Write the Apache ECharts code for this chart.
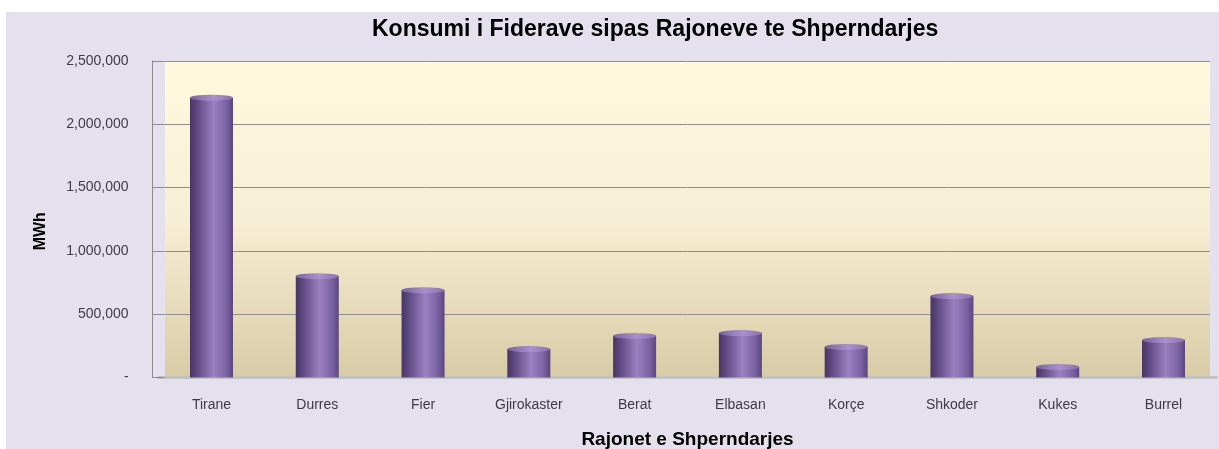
<!DOCTYPE html>
<html>
<head>
<meta charset="utf-8">
<script src="https://cdn.jsdelivr.net/npm/echarts@6/dist/echarts.min.js"></script>
<style>
  html, body { margin: 0; padding: 0; background: #ffffff; }
  #bg { position: absolute; left: 6px; top: 12px; width: 1213px; height: 437px; background: #E5E0ED; }
  #main { position: absolute; left: 0; top: 0; width: 1219px; height: 449px; }
</style>
</head>
<body>
<div id="bg"></div>
<div id="main"></div>
<script>
// Rajonet e Shperndarjes (categories)
const regions = ['Tirane', 'Durres', 'Fier', 'Gjirokaster', 'Berat', 'Elbasan', 'Korçe', 'Shkoder', 'Kukes', 'Burrel'];
// Konsumi i fiderave, MWh
const consumption = [2210000, 800000, 690000, 225000, 328000, 351000, 241000, 643000, 83000, 296000];
// y axis scale
const yMin = 0;
const yMax = 2500000;
const yStep = 500000;

const chart = echarts.init(document.getElementById('main'));

const fmt = v => (v === 0 ? '-' : v.toLocaleString('en-US'));

const barColor = new echarts.graphic.LinearGradient(0, 0, 1, 0, [
  { offset: 0, color: '#48365F' },
  { offset: 0.15, color: '#5D4780' },
  { offset: 0.55, color: '#9A80C0' },
  { offset: 0.85, color: '#7A62A2' },
  { offset: 1, color: '#5A4580' }
]);
const capColor = new echarts.graphic.LinearGradient(0, 0, 1, 0, [
  { offset: 0, color: '#7A64A0' },
  { offset: 0.55, color: '#A891CC' },
  { offset: 1, color: '#8A72B2' }
]);

const option = {
  backgroundColor: 'transparent',
  animation: false,
  title: {
    text: 'Konsumi i Fiderave sipas Rajoneve te Shperndarjes',
    left: 367,
    top: 13,
    textStyle: { fontFamily: 'Liberation Sans', fontSize: 23, fontWeight: 'bold', color: '#000' }
  },
  grid: [
    { left: 158.6, right: 2.6, top: 61, bottom: 71.5, show: false, outerBoundsMode: 'none', containLabel: false },
    {
      left: 165, right: 9, top: 61, bottom: 71.5, show: true, borderWidth: 0,
      outerBoundsMode: 'none', containLabel: false,
      backgroundColor: new echarts.graphic.LinearGradient(0, 0, 0, 1, [
        { offset: 0, color: '#FFF9DE' },
        { offset: 0.5, color: '#F7EFD5' },
        { offset: 1, color: '#D9CBA7' }
      ])
    }
  ],
  xAxis: [
    {
      type: 'category',
      gridIndex: 0,
      data: regions,
      offset: 3,
      axisLine: { lineStyle: { color: '#C2C2C2', width: 3 } },
      axisTick: { show: false },
      axisLabel: { margin: 18, fontFamily: 'Liberation Sans', fontSize: 14, color: '#3C3A46' },
      name: 'Rajonet e Shperndarjes',
      nameLocation: 'middle',
      nameGap: 50,
      nameTextStyle: { fontFamily: 'Liberation Sans', fontSize: 19, fontWeight: 'bold', color: '#000' }
    },
    { type: 'value', gridIndex: 1, show: false }
  ],
  yAxis: [
    {
      type: 'value',
      gridIndex: 0,
      min: yMin, max: yMax, interval: yStep,
      offset: 6,
      axisLine: { show: true, lineStyle: { color: '#8C8C8C' } },
      axisTick: { show: true, inside: true, length: 12, lineStyle: { color: '#8C8C8C' } },
      splitLine: { show: false },
      axisLabel: { margin: 24, fontFamily: 'Liberation Sans', fontSize: 14, color: '#3C3C46', formatter: fmt },
      name: 'MWh',
      nameLocation: 'middle',
      nameRotate: 90,
      nameGap: 104,
      nameTextStyle: { fontFamily: 'Liberation Sans', fontSize: 16, fontWeight: 'bold', color: '#000', padding: [0, 0, 0, -24] }
    },
    {
      type: 'value',
      gridIndex: 1,
      min: yMin, max: yMax, interval: yStep,
      axisLine: { show: false },
      axisTick: { show: false },
      axisLabel: { show: false },
      splitLine: { show: true, lineStyle: { color: '#8E8E8E', width: 1 } }
    }
  ],
  series: [
    {
      type: 'bar',
      xAxisIndex: 0,
      yAxisIndex: 0,
      data: consumption,
      barWidth: 43,
      itemStyle: { color: barColor },
      z: 3
    },
    {
      type: 'pictorialBar',
      xAxisIndex: 0,
      yAxisIndex: 0,
      data: consumption,
      symbol: 'circle',
      symbolSize: [43, 6],
      symbolPosition: 'end',
      symbolOffset: [0, '-50%'],
      itemStyle: { color: capColor },
      z: 4
    }
  ]
};

chart.setOption(option);
window.addEventListener('resize', () => chart.resize());
</script>
</body>
</html>
